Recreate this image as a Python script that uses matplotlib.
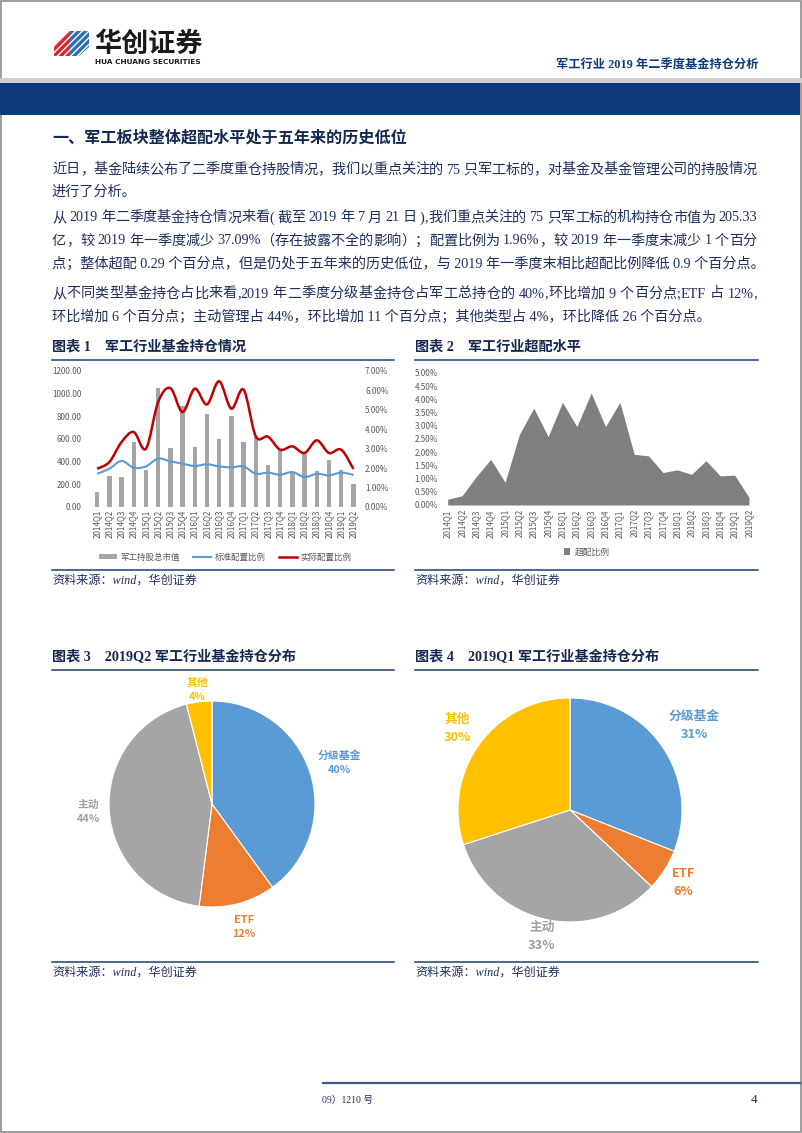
import re
import numpy as np
import matplotlib
matplotlib.use('Agg')
import matplotlib.pyplot as plt
from matplotlib.patches import Rectangle, Polygon, PathPatch, Patch
from matplotlib.path import Path
from matplotlib.lines import Line2D

plt.rcParams['font.family'] = ['Noto Sans CJK SC', 'DejaVu Sans']

# ---- data ----
quarters = ['2014Q1', '2014Q2', '2014Q3', '2014Q4', '2015Q1', '2015Q2', '2015Q3', '2015Q4',
            '2016Q1', '2016Q2', '2016Q3', '2016Q4', '2017Q1', '2017Q2', '2017Q3', '2017Q4',
            '2018Q1', '2018Q2', '2018Q3', '2018Q4', '2019Q1', '2019Q2']
market_value = [135, 275, 265, 575, 330, 1050, 525, 890, 530, 820, 600, 800,
                575, 620, 370, 500, 300, 470, 315, 412, 326, 205]
std_ratio = [1.71, 1.97, 2.37, 2.02, 2.09, 2.49, 2.35, 2.23, 2.11, 2.20, 2.09, 2.04,
             2.09, 1.71, 1.77, 1.66, 1.80, 1.54, 1.71, 1.63, 1.77, 1.65]
actual_ratio = [1.97, 2.31, 3.34, 3.86, 3.00, 5.40, 6.12, 4.89, 6.09, 5.28, 6.47, 5.06,
                6.04, 3.64, 3.62, 2.95, 3.12, 2.78, 3.43, 2.78, 2.95, 1.96]
overweight = [0.22, 0.35, 1.08, 1.73, 0.86, 2.68, 3.67, 2.59, 3.89, 2.97, 4.24, 2.97,
              3.89, 1.92, 1.86, 1.23, 1.33, 1.16, 1.68, 1.10, 1.13, 0.29]
fund_types = ['分级基金', 'ETF', '主动', '其他']
share_q2 = [40, 12, 44, 4]
share_q1 = [31, 6, 33, 30]

heading = '一、军工板块整体超配水平处于五年来的历史低位'
paragraphs = [
    ['近日，基金陆续公布了二季度重仓持股情况，我们以重点关注的 75 只军工标的，对基金及基金管理公司的持股情况',
     '进行了分析。'],
    ['从 2019 年二季度基金持仓情况来看( 截至 2019 年 7 月 21 日 ),我们重点关注的 75 只军工标的机构持仓市值为 205.33',
     '亿，较 2019 年一季度减少 37.09%（存在披露不全的影响）；配置比例为 1.96%，较 2019 年一季度末减少 1 个百分',
     '点；整体超配 0.29 个百分点，但是仍处于五年来的历史低位，与 2019 年一季度末相比超配比例降低 0.9 个百分点。'],
    ['从不同类型基金持仓占比来看,2019 年二季度分级基金持仓占军工总持仓的 40%,环比增加 9 个百分点;ETF 占 12%,',
     '环比增加 6 个百分点；主动管理占 44%，环比增加 11 个百分点；其他类型占 4%，环比降低 26 个百分点。'],
]
para_y = [[170, 192], [218, 241, 264], [294, 317]]

# ---- style ----
W, H = 802, 1133
NAVY = '#0C3A7C'
TEXT = '#1F3060'
RULE = '#1F3F73'
TICK = '#595959'
SERIF = ['Liberation Serif', 'Noto Sans CJK SC']
pie_colors = ['#5B9BD5', '#ED7D31', '#A5A5A5', '#FFC000']

fig = plt.figure(figsize=(W / 100, H / 100), dpi=100)
renderer = fig.canvas.get_renderer()


def fx(x):
    return x / W


def fy(y):
    return 1 - y / H


def hline(x0, x1, y, color, lw):
    fig.add_artist(Line2D([fx(x0), fx(x1)], [fy(y), fy(y)], color=color, lw=lw,
                          transform=fig.transFigure))


def prect(x0, y0, x1, y1, color):
    fig.add_artist(Rectangle((fx(x0), fy(y1)), fx(x1) - fx(x0), fy(y0) - fy(y1),
                             color=color, lw=0, transform=fig.transFigure))


TOKEN = re.compile(r'[A-Za-z0-9.%]+|\s|.')


def body_line(x0, y, s, width=None, size=10.2, color=TEXT):
    if width is None:
        fig.text(fx(x0), fy(y), s, fontsize=size, family=SERIF, color=color, va='center')
        return
    # justify: spread the characters across the full line width
    toks = TOKEN.findall(s)
    items = []
    for t in toks:
        if t.isspace():
            items.append((None, 3.5))
            continue
        tt = fig.text(0, fy(y), t, fontsize=size, family=SERIF, color=color, va='center')
        items.append((tt, tt.get_window_extent(renderer).width))
    extra = (width - sum(w for _, w in items)) / (len(items) - 1)
    x = x0
    for tt, w in items:
        if tt is not None:
            tt.set_x(fx(x))
        x += w + extra


# ---- page frame and header ----
fig.add_artist(Rectangle((0.001, 0.001), 0.998, 0.998, fill=False, ec='#8C8C8C', lw=1.2,
                         transform=fig.transFigure))
fig.add_artist(Polygon([(fx(54), fy(46)), (fx(69), fy(31)), (fx(74), fy(31)), (fx(74), fy(56)),
                        (fx(54), fy(56))], closed=True, fc='#E0242B', ec='white', hatch='/////',
                       lw=0, transform=fig.transFigure))
fig.add_artist(Polygon([(fx(69), fy(31)), (fx(89), fy(31)), (fx(89), fy(47)), (fx(79), fy(56)),
                        (fx(69), fy(56))], closed=True, fc='#2F6DB5', ec='white', hatch='/////',
                       lw=0, transform=fig.transFigure))
fig.text(fx(94), fy(44), '华创证券', fontsize=19.5, fontweight='heavy', color='#1A1A1A', va='center')
fig.text(fx(95), fy(62), 'HUA CHUANG SECURITIES', fontsize=5.3, fontweight='bold',
         color='#1A1A1A', va='center', family='DejaVu Sans')
fig.text(fx(758), fy(65), '军工行业 2019 年二季度基金持仓分析', fontsize=8.8, fontweight='bold',
         color=NAVY, family=SERIF, ha='right', va='center')
prect(0, 78, W, 83, '#CFCFCF')
prect(0, 83, W - 2, 115, NAVY)

# ---- text ----
fig.text(fx(52), fy(138), heading, fontsize=11.6, fontweight='bold', color='#15284F', va='center')
for lines, ys in zip(paragraphs, para_y):
    for i, (s, y) in enumerate(zip(lines, ys)):
        body_line(52, y, s, width=705 if i < len(lines) - 1 else None)


def chart_frame(x0, x1, y_title, y_bottom, title):
    fig.text(fx(x0), fy(y_title), title, fontsize=10.2, fontweight='bold', color='#15284F',
             va='center', family=SERIF)
    hline(x0, x1, y_title + 12.5, RULE, 1.1)
    hline(x0, x1, y_bottom, RULE, 1.1)
    fig.text(fx(x0), fy(y_bottom + 11), '资料来源：wind，华创证券', fontsize=8.7, style='italic',
             color=TEXT, va='center', family=SERIF)


chart_frame(52, 394, 347, 570, '图表 1    军工行业基金持仓情况')
chart_frame(415, 758, 347, 570, '图表 2    军工行业超配水平')
chart_frame(52, 394, 657, 962, '图表 3    2019Q2 军工行业基金持仓分布')
chart_frame(415, 758, 657, 962, '图表 4    2019Q1 军工行业基金持仓分布')

# ---- chart 1 ----
x = np.arange(len(quarters))
ax1 = fig.add_axes([fx(91), fy(507), (359.5 - 91) / W, (507 - 371) / H])
bars = ax1.bar(x, market_value, width=0.36, color='#A5A5A5', zorder=1)
ax1.set_xlim(-0.5, len(quarters) - 0.5)
ax1.set_ylim(0, 1200)
ax1.set_yticks(np.arange(0, 1201, 200))
ax1.set_yticklabels(['%.2f' % v for v in np.arange(0, 1201, 200)])
ax1.set_xticks(x)
ax1.set_xticklabels(quarters, rotation=90)
ax1.tick_params(length=0, labelsize=5.8, labelcolor=TICK)
ax1.tick_params(axis='y', pad=7)
ax1.tick_params(axis='x', pad=2)
for s in ax1.spines.values():
    s.set_visible(False)
ax1.axhline(0, color='#D9D9D9', lw=0.8)

ax2 = ax1.twinx()
ax2.set_ylim(0, 7)
ax2.set_yticks(np.arange(0, 8))
ax2.set_yticklabels(['%.2f%%' % v for v in range(8)])
ax2.tick_params(length=0, labelsize=5.8, labelcolor=TICK, pad=4)
for s in ax2.spines.values():
    s.set_visible(False)


def smooth_path(xs, ys):
    pts = np.column_stack([xs, ys]).astype(float)
    n = len(pts)
    verts, codes = [pts[0]], [Path.MOVETO]
    for i in range(n - 1):
        p0 = pts[i - 1] if i > 0 else pts[i]
        p1, p2 = pts[i], pts[i + 1]
        p3 = pts[i + 2] if i + 2 < n else pts[i + 1]
        verts += [p1 + (p2 - p0) / 6, p2 - (p3 - p1) / 6, p2]
        codes += [Path.CURVE4] * 3
    return Path(verts, codes)


ax2.add_patch(PathPatch(smooth_path(x, std_ratio), fc='none', ec='#5B9BD5', lw=1.5))
ax2.add_patch(PathPatch(smooth_path(x, actual_ratio), fc='none', ec='#C00000', lw=1.8))

handles = [Patch(fc='#A5A5A5', ec='none'), Line2D([], [], color='#5B9BD5', lw=1.5),
           Line2D([], [], color='#C00000', lw=1.8)]
fig.legend(handles, ['军工持股总市值', '标准配置比例', '实际配置比例'], loc='center',
           bbox_to_anchor=(fx(225), fy(557)), ncol=3, frameon=False, fontsize=6.1,
           labelcolor=TICK, handlelength=2.1, handleheight=0.5, handletextpad=0.4,
           columnspacing=1.6)

# ---- chart 2 ----
ax3 = fig.add_axes([fx(447.7), fy(505), (749 - 447.7) / W, (505 - 373) / H])
ax3.fill_between(x, 0, overweight, color='#7F7F7F', lw=0)
ax3.set_xlim(0, len(quarters) - 1)
ax3.set_ylim(0, 5)
yt = np.arange(0, 5.01, 0.5)
ax3.set_yticks(yt)
ax3.set_yticklabels(['%.2f%%' % v for v in yt])
ax3.set_xticks(x)
ax3.set_xticklabels(quarters, rotation=90)
ax3.tick_params(length=0, labelsize=5.8, labelcolor=TICK)
ax3.tick_params(axis='y', pad=7)
ax3.tick_params(axis='x', pad=3)
for s in ax3.spines.values():
    s.set_visible(False)
fig.legend([Patch(fc='#7F7F7F', ec='none')], ['超配比例'], loc='center',
           bbox_to_anchor=(fx(587), fy(552)), frameon=False, fontsize=6.3, labelcolor=TICK,
           handlelength=0.7, handleheight=0.7, handletextpad=0.5)


# ---- pies ----
def pie_chart(cx, cy, r, shares, dists, size):
    ax = fig.add_axes([fx(cx - r), fy(cy + r), 2 * r / W, 2 * r / H])
    ax.pie(shares, colors=pie_colors, startangle=90, counterclock=False, radius=1,
           wedgeprops=dict(ec='white', lw=0.8))
    ax.set_xlim(-1, 1)
    ax.set_ylim(-1, 1)
    ax.axis('off')
    cum = np.cumsum([0] + list(shares[:-1]))
    for name, sh, c0, d, col in zip(fund_types, shares, cum, dists, pie_colors):
        ang = np.deg2rad(90 - 360 * (c0 + sh / 2) / sum(shares))
        col_txt = '#A0A0A0' if name == '主动' else col
        ax.text(d * np.cos(ang), d * np.sin(ang), '%s\n%d%%' % (name, sh), ha='center',
                va='center', fontsize=size, fontweight='bold', color=col_txt, linespacing=1.5)


pie_chart(212, 804, 103, share_q2, [1.30, 1.23, 1.20, 1.12], 7.8)
pie_chart(570, 810, 112, share_q1, [1.34, 1.20, 1.16, 1.24], 9.2)

# ---- footer ----
hline(323, W - 2, 1083, '#3A5A8A', 1.6)
fig.text(fx(322), fy(1100), '09）1210 号', fontsize=7, color=TEXT, family=SERIF, va='center')
fig.text(fx(757), fy(1100), '4', fontsize=9.5, color=TEXT, family=SERIF, va='center', ha='right')

fig.savefig('out.png', dpi=100)
